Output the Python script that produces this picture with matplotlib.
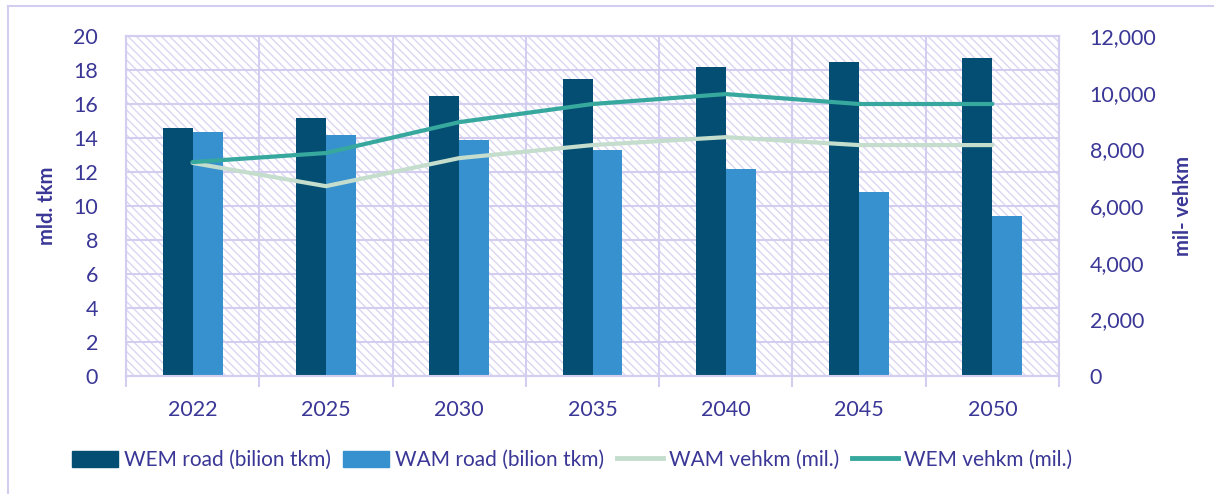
import matplotlib
matplotlib.use("Agg")
import matplotlib.pyplot as plt
import numpy as np
from matplotlib.patches import Rectangle, Patch
from matplotlib.lines import Line2D

years = ["2022", "2025", "2030", "2035", "2040", "2045", "2050"]
wem_road = [14.6, 15.2, 16.5, 17.5, 18.2, 18.5, 18.7]
wam_road = [14.35, 14.2, 13.9, 13.3, 12.2, 10.8, 9.4]
wam_vehkm = [7520, 6700, 7690, 8150, 8430, 8150, 8150]
wem_vehkm = [7550, 7870, 8960, 9600, 9950, 9600, 9600]

c_dark = "#034E72"
c_light = "#3891CF"
c_wam = "#C5DDCD"
c_wem = "#36A89D"
c_text = "#3A3796"
c_grid = "#D3CEF0"
c_hatch = "#DAD6F3"

plt.rcParams['font.family'] = ['Lato', 'DejaVu Sans']

fig = plt.figure(figsize=(12.14, 4.94), dpi=100)
ax = fig.add_axes([126/1214, 1-376/494, (1059-126)/1214, (376-36)/494])

# hatched background
ax.set_facecolor("white")
plt.rcParams['hatch.linewidth'] = 1.0
bg = Rectangle((0, 0), 1, 1, transform=ax.transAxes, facecolor="white",
               edgecolor=c_hatch, hatch="\\\\\\\\", linewidth=0, zorder=0)
ax.add_patch(bg)

x = np.arange(len(years))
w = 0.225
ax.bar(x - w/2, wem_road, w, color=c_dark, zorder=3, label="WEM road (bilion tkm)")
ax.bar(x + w/2, wam_road, w, color=c_light, zorder=3, label="WAM road (bilion tkm)")

ax.set_xlim(-0.5, len(years) - 0.5)
ax.set_ylim(0, 20)
ax.set_yticks(np.arange(0, 21, 2))
ax.yaxis.grid(True, color=c_grid, linewidth=1.5, zorder=1)
for b in np.arange(-0.5, len(years), 1.0):
    ax.axvline(b, color=c_grid, linewidth=1.5, zorder=1)
ax.set_axisbelow(True)

ax.set_xticks(x)
ax.set_xticklabels(years)
ax.set_xticks(np.arange(-0.5, len(years), 1.0), minor=True)
ax.tick_params(axis='x', which='major', length=0, pad=17, labelsize=15.5, labelcolor=c_text)
ax.tick_params(axis='x', which='minor', length=8, width=1.5, color=c_grid)
ax.tick_params(axis='y', length=0, pad=20, labelsize=15.5, labelcolor=c_text)
for s in ax.spines.values():
    s.set_color(c_grid)
    s.set_linewidth(1.5)
ax.set_ylabel("mld. tkm", fontsize=14.5, fontweight="bold", color=c_text, labelpad=12)

ax2 = ax.twinx()
ax2.patch.set_visible(False)
ax2.plot(x, wam_vehkm, color=c_wam, linewidth=3, solid_capstyle="round", zorder=4)
ax2.plot(x, wem_vehkm, color=c_wem, linewidth=3, solid_capstyle="round", zorder=5)
ax2.set_ylim(0, 12000)
ax2.set_yticks(np.arange(0, 12001, 2000))
ax2.set_yticklabels([f"{v:,}" for v in range(0, 12001, 2000)])
ax2.tick_params(axis='y', length=0, pad=22, labelsize=15.5, labelcolor=c_text)
for s in ax2.spines.values():
    s.set_color(c_grid)
    s.set_linewidth(1.5)
ax2.set_ylabel("mil- vehkm", fontsize=14.5, fontweight="bold", color=c_text, labelpad=12)

handles = [Patch(color=c_dark), Patch(color=c_light),
           Line2D([0], [0], color=c_wam, linewidth=3.5),
           Line2D([0], [0], color=c_wem, linewidth=3.5)]
labels = ["WEM road (bilion tkm)", "WAM road (bilion tkm)", "WAM vehkm (mil.)", "WEM vehkm (mil.)"]
leg = fig.legend(handles, labels, loc="center", bbox_to_anchor=(572/1214, 1-460/494), ncol=4,
                 frameon=False, fontsize=15, handlelength=2.2, handleheight=0.8,
                 handletextpad=0.3, columnspacing=0.6)
for t in leg.get_texts():
    t.set_color(c_text)

# outer border
fig.add_artist(Line2D([8/1214, 1], [1-6/494, 1-6/494], transform=fig.transFigure, color=c_grid, linewidth=1.5))
fig.add_artist(Line2D([8/1214, 8/1214], [0, 1-6/494], transform=fig.transFigure, color=c_grid, linewidth=1.5))

fig.savefig("out.png", dpi=100)
